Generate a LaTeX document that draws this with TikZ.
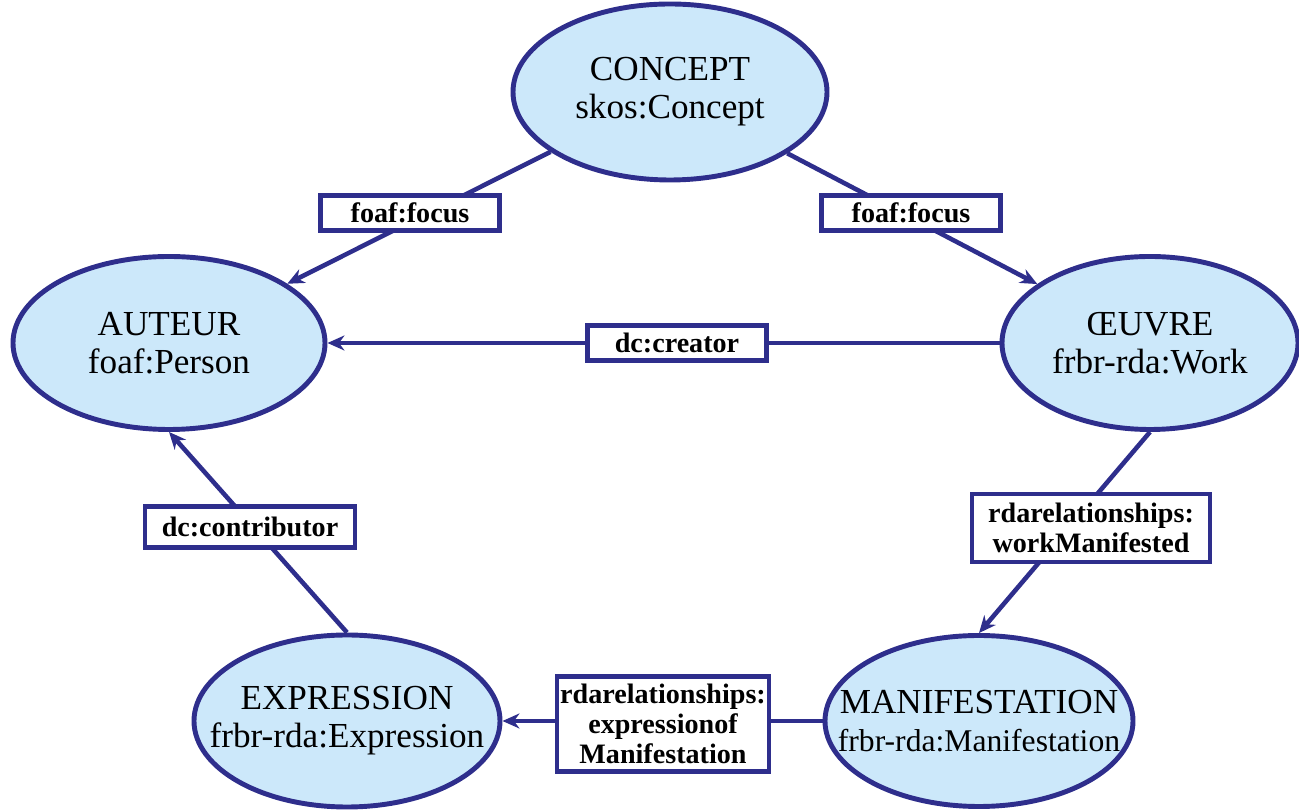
\documentclass[tikz,border=0pt]{standalone}
\usepackage{fontspec}
\setmainfont{Liberation Serif}
\usetikzlibrary{shapes.geometric,arrows.meta}
\definecolor{entfill}{RGB}{204,232,250}
\definecolor{navy}{RGB}{46,46,140}
\tikzset{
  ent/.style={ellipse, draw=navy, fill=entfill, line width=2.8pt, inner sep=0pt},
  enttext/.style={align=center, font=\fontsize{20}{21.5}\selectfont},
  rel/.style={draw=navy, line width=2.6pt, -{Stealth[length=3.4mm,width=3mm]}},
  lbl/.style={draw=navy, fill=white, line width=2.4pt, align=center, inner sep=2pt,
    font=\fontsize{16}{17}\selectfont\bfseries, minimum width=3.58cm, minimum height=0.7cm},
}
\begin{document}
\begin{tikzpicture}
    \useasboundingbox (0,0) rectangle (25.98,16.2);
    % classes
    \node[ent, minimum width=6.28cm, minimum height=3.52cm,
      label={[enttext]center:CONCEPT\\skos:Concept}] (concept) at (13.4,14.36) {};
    \node[ent, minimum width=6.24cm, minimum height=3.46cm,
      label={[enttext]center:AUTEUR\\foaf:Person}] (auteur) at (3.38,9.34) {};
    \node[ent, minimum width=5.92cm, minimum height=3.46cm,
      label={[enttext]center:ŒUVRE\\frbr-rda:Work}] (oeuvre) at (23.0,9.34) {};
    \node[ent, minimum width=6.12cm, minimum height=3.44cm,
      label={[enttext]center:EXPRESSION\\frbr-rda:Expression}] (expression) at (6.94,1.78) {};
    \node[ent, minimum width=6.16cm, minimum height=3.42cm,
      label={[enttext]center:MANIFESTATION\\{\fontsize{18}{21.5}\selectfont frbr-rda:Manifestation}}] (manif) at (19.58,1.78) {};
    % relations
    \draw[rel] (concept) -- (auteur);
    \draw[rel] (concept) -- (oeuvre);
    \draw[rel] (oeuvre.west) -- (auteur.east);
    \draw[rel] (oeuvre.south) -- (manif.north);
    \draw[rel] (manif.west) -- (expression.east);
    \draw[rel] (expression.north) -- (auteur.south);
    % property labels
    \node[lbl] (focusA) at (8.2,11.94) {foaf:focus};
    \node[lbl] (focusO) at (18.22,11.94) {foaf:focus};
    \node[lbl] (creator) at (13.54,9.34) {dc:creator};
    \node[lbl, minimum width=4.2cm, minimum height=0.82cm] (contrib) at (5.0,5.66) {dc:contributor};
    \node[lbl, minimum width=4.76cm, minimum height=1.36cm] (workman) at (21.82,5.64)
      {rdarelationships:\\workManifested};
    \node[lbl, minimum width=4.2cm, minimum height=1.9cm] (exprof) at (13.26,1.72)
      {rdarelationships:\\expressionof\\Manifestation};
\end{tikzpicture}
\end{document}
